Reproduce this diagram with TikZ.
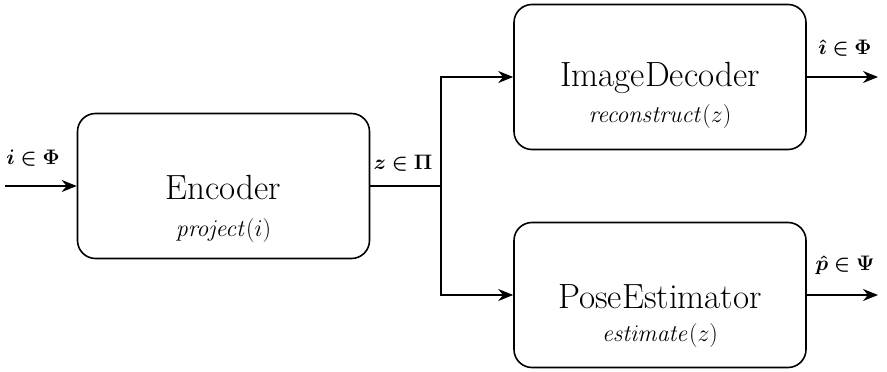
\RequirePackage{fix-cm}
\documentclass[tikz,border=0pt]{standalone}
\usepackage{amsmath,bm}
\usetikzlibrary{arrows.meta}
\begin{document}
\begin{tikzpicture}[x=1pt,y=-1pt,
  block/.style={draw,line width=1.6pt,rounded corners=18pt,minimum width=292pt,minimum height=145pt,inner sep=0pt},
  title/.style={font=\fontsize{35}{40}\selectfont},
  sub/.style={font=\fontsize{24}{28}\selectfont},
  lab/.style={font=\fontsize{21}{24}\selectfont},
  flow/.style={line width=1.6pt,-{Stealth[length=15pt,width=12pt]}},
  wire/.style={line width=1.6pt}]
\useasboundingbox (0,0) rectangle (887,372);
% blocks
\node[block] (enc) at (223.5,186) {};
\node[block] (dec) at (660,77) {};
\node[block] (pose) at (660,295) {};
% block texts
\node[title] (encT) at ([yshift=-1pt]enc.center) {Encoder};
\node[sub] (encS) at ([yshift=-44pt]enc.center) {$\mathit{project}(i)$};
\node[title] (decT) at ([yshift=-1pt]dec.center) {ImageDecoder};
\node[sub] (decS) at ([yshift=-40pt]dec.center) {$\mathit{reconstruct}(z)$};
\node[title] (poseT) at ([yshift=-2pt]pose.center) {PoseEstimator};
\node[sub] (poseS) at ([yshift=-40pt]pose.center) {$\mathit{estimate}(z)$};
% connection points
\coordinate (in) at (5,186);
\coordinate (split) at (441,186);
\coordinate (outA) at (878,77);
\coordinate (outB) at (878,295);
% connectors
\draw[flow] (in) -- (enc.west);
\draw[wire] (enc.east) -- (split);
\draw[flow] (split) |- (dec.west);
\draw[flow] (split) |- (pose.west);
\draw[flow] (dec.east) -- (outA);
\draw[flow] (pose.east) -- (outB);
% signal labels
\node[lab] (li) at (33,158) {$\bm{i\in\Phi}$};
\node[lab] (lz) at (403,163) {$\bm{z\in\Pi}$};
\node[lab] (lih) at (845,48) {$\bm{\hat{\imath}\in\Phi}$};
\node[lab] (lph) at (845,265) {$\bm{\hat{p}\in\Psi}$};
\end{tikzpicture}
\end{document}
